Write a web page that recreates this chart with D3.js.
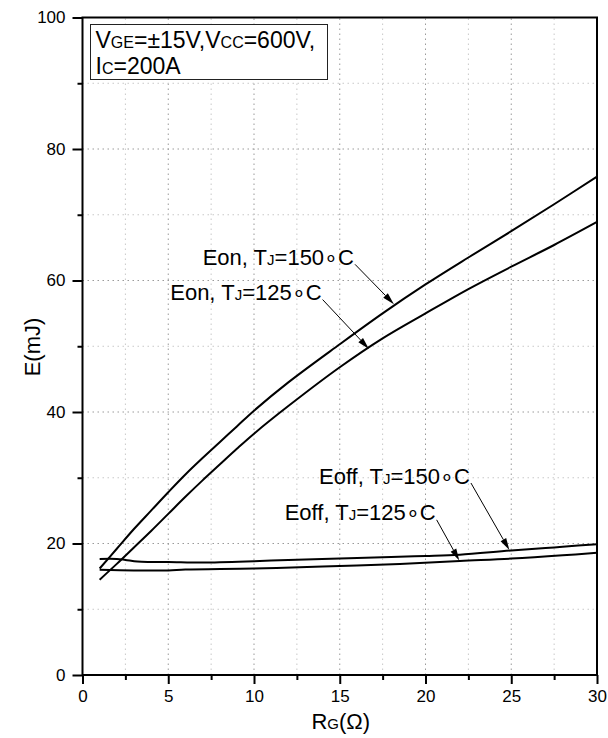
<!DOCTYPE html>
<html>
<head>
<meta charset="utf-8">
<script src="https://cdn.jsdelivr.net/npm/d3@7/dist/d3.min.js"></script>
<style>
  html, body { margin: 0; padding: 0; background: #fff; }
  svg { display: block; }
  text { font-family: "Liberation Sans", Arial, sans-serif; fill: #000; }
</style>
</head>
<body>
<svg id="chart" width="608" height="738"></svg>
<script>
// ---------- data ----------
const xTicks = [0, 5, 10, 15, 20, 25, 30];
const yTicks = [0, 20, 40, 60, 80, 100];

const eon150R = [1, 2, 3, 4, 5, 6, 7, 8, 9, 10, 12, 15, 17.5, 20, 22.5, 25, 27.5, 30];
const eon150E = [16.2, 19.2, 22.2, 25.0, 27.8, 30.5, 33.0, 35.4, 37.8, 40.2, 44.5, 50.3, 55.0, 59.4, 63.5, 67.5, 71.6, 75.8];

const eon125R = [1, 2, 3, 4, 5, 6, 7, 8, 9, 10, 12, 15, 17.5, 20, 22.5, 25, 27.5, 30];
const eon125E = [14.5, 16.9, 19.4, 21.9, 24.5, 27.1, 29.6, 32.0, 34.4, 36.7, 40.9, 46.8, 51.2, 55.0, 58.7, 62.1, 65.4, 68.9];

const eoff150R = [1, 2, 2.5, 3.2, 4, 5, 7, 10, 12, 15, 18, 20, 22, 25, 27, 28, 30];
const eoff150E = [17.65, 17.65, 17.5, 17.25, 17.2, 17.2, 17.1, 17.3, 17.5, 17.7, 17.95, 18.1, 18.3, 18.95, 19.3, 19.5, 19.9];

const eoff125R = [1, 3, 5, 6, 10, 14, 18.5, 22, 25, 28, 30];
const eoff125E = [16.0, 15.9, 15.9, 16.05, 16.2, 16.5, 16.9, 17.35, 17.7, 18.2, 18.6];

const seriesNames = ["Eon, TJ=150", "Eon, TJ=125", "Eoff, TJ=150", "Eoff, TJ=125"];
const annoStartR = [15.89, 14.0, 22.65, 20.65];
const annoStartE = [62.46, 57.1, 29.2, 23.6];
const annoTipR = [18.16, 16.7, 24.89, 21.97];
const annoTipE = [56.4, 49.6, 19.0, 17.4];
const annoPrefix = ["Eon, T", "Eon, T", "Eoff, T", "Eoff, T"];
const annoTemp = ["=150∘C", "=125∘C", "=150∘C", "=125∘C"];

// ---------- layout ----------
const svg = d3.select("#chart");
const x = d3.scaleLinear().domain([0, 30]).range([82.5, 597]);
const y = d3.scaleLinear().domain([0, 100]).range([675, 17.5]);

// grid
const gGrid = svg.append("g");
d3.range(2.5, 30, 2.5).forEach(v => {
  gGrid.append("line")
    .attr("x1", x(v)).attr("x2", x(v)).attr("y1", y(0)).attr("y2", y(100))
    .attr("stroke", v % 5 === 0 ? "#9a9a9a" : "#c8c8c8")
    .attr("stroke-width", 1).attr("stroke-dasharray", "1.5,3.5");
});
d3.range(10, 100, 10).forEach(v => {
  gGrid.append("line")
    .attr("y1", y(v)).attr("y2", y(v)).attr("x1", x(0)).attr("x2", x(30))
    .attr("stroke", v % 20 === 0 ? "#9a9a9a" : "#c8c8c8")
    .attr("stroke-width", 1).attr("stroke-dasharray", "1.5,3.5");
});

// legend box (conditions)
const lg = svg.append("g");
lg.append("rect").attr("x", 90.5).attr("y", 24.5).attr("width", 237).attr("height", 55)
  .attr("fill", "#fff").attr("stroke", "#222").attr("stroke-width", 1);
const t1 = lg.append("text").attr("x", 95.5).attr("y", 47.5).attr("font-size", 23);
t1.append("tspan").text("V");
t1.append("tspan").attr("font-size", 16).text("GE");
t1.append("tspan").text("=±15V,V");
t1.append("tspan").attr("font-size", 16).text("CC");
t1.append("tspan").text("=600V,");
const t2 = lg.append("text").attr("x", 95.5).attr("y", 73.5).attr("font-size", 23);
t2.append("tspan").text("I");
t2.append("tspan").attr("font-size", 16).text("C");
t2.append("tspan").text("=200A");

// curves
const line = d3.line().x(d => x(d[0])).y(d => y(d[1])).curve(d3.curveCatmullRom.alpha(0.5));
const allSeries = [
  d3.zip(eon150R, eon150E),
  d3.zip(eon125R, eon125E),
  d3.zip(eoff150R, eoff150E),
  d3.zip(eoff125R, eoff125E)
];
svg.append("g").selectAll("path").data(allSeries).join("path")
  .attr("d", line).attr("fill", "none").attr("stroke", "#000")
  .attr("stroke-width", 2).attr("stroke-linejoin", "round");

// frame
svg.append("rect").attr("x", x(0)).attr("y", y(100))
  .attr("width", x(30) - x(0)).attr("height", y(0) - y(100))
  .attr("fill", "none").attr("stroke", "#000").attr("stroke-width", 2);

// axes
const xAxis = d3.axisBottom(x).tickValues(xTicks).tickSize(9).tickPadding(6).tickFormat(d3.format("d"));
const gx = svg.append("g").attr("transform", `translate(0,${y(0)})`).call(xAxis);
gx.select(".domain").remove();
gx.selectAll(".tick line").attr("stroke", "#000").attr("stroke-width", 2);
gx.selectAll(".tick text").attr("font-size", 17).attr("font-family", "Liberation Sans, Arial, sans-serif").attr("dy", "0.71em");
const xMinor = d3.axisBottom(x).tickValues(d3.range(2.5, 30, 5)).tickSize(5).tickFormat("");
const gxm = svg.append("g").attr("transform", `translate(0,${y(0)})`).call(xMinor);
gxm.select(".domain").remove();
gxm.selectAll(".tick line").attr("stroke", "#000").attr("stroke-width", 2);

const yAxis = d3.axisLeft(y).tickValues(yTicks).tickSize(10).tickPadding(7).tickFormat(d3.format("d"));
const gy = svg.append("g").attr("transform", `translate(${x(0)},0)`).call(yAxis);
gy.select(".domain").remove();
gy.selectAll(".tick line").attr("stroke", "#000").attr("stroke-width", 2);
gy.selectAll(".tick text").attr("font-size", 17).attr("font-family", "Liberation Sans, Arial, sans-serif");
const yMinor = d3.axisLeft(y).tickValues(d3.range(10, 100, 20)).tickSize(5).tickFormat("");
const gym = svg.append("g").attr("transform", `translate(${x(0)},0)`).call(yMinor);
gym.select(".domain").remove();
gym.selectAll(".tick line").attr("stroke", "#000").attr("stroke-width", 2);

// axis titles
const xt = svg.append("text").attr("x", (x(0) + x(30)) / 2 + 1).attr("y", 729)
  .attr("text-anchor", "middle").attr("font-size", 22);
xt.append("tspan").text("R");
xt.append("tspan").attr("font-size", 15).text("G");
xt.append("tspan").text("(Ω)");

svg.append("text").attr("transform", `translate(40,347) rotate(-90)`)
  .attr("text-anchor", "middle").attr("font-size", 22).text("E(mJ)");

// annotations
const ga = svg.append("g");
seriesNames.forEach((name, i) => {
  const sx = x(annoStartR[i]), sy = y(annoStartE[i]);
  const tx = x(annoTipR[i]), ty = y(annoTipE[i]);
  const t = ga.append("text").attr("x", sx - 1).attr("y", sy + 0.5)
    .attr("text-anchor", "end").attr("font-size", 22);
  t.append("tspan").text(annoPrefix[i]);
  t.append("tspan").attr("font-size", 15).text("J");
  t.append("tspan").text(annoTemp[i]);

  const ang = Math.atan2(ty - sy, tx - sx);
  const L = 12, W = 3.2;
  const bx = tx - L * Math.cos(ang), by = ty - L * Math.sin(ang);
  ga.append("line").attr("x1", sx).attr("y1", sy).attr("x2", bx).attr("y2", by)
    .attr("stroke", "#000").attr("stroke-width", 1);
  const px = -Math.sin(ang) * W, py = Math.cos(ang) * W;
  ga.append("path")
    .attr("d", `M${tx},${ty}L${bx + px},${by + py}L${bx - px},${by - py}Z`)
    .attr("fill", "#000");
});
</script>
</body>
</html>
